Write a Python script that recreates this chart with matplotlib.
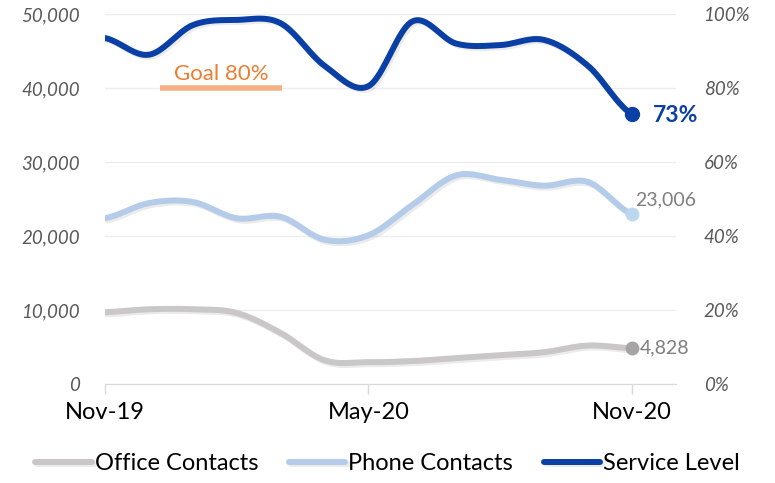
import numpy as np
import matplotlib
matplotlib.use("Agg")
import matplotlib.pyplot as plt
import matplotlib.patheffects as pe
from matplotlib.ticker import FuncFormatter

plt.rcParams['font.family'] = ['Lato', 'DejaVu Sans']

months = ['Nov-19', 'Dec-19', 'Jan-20', 'Feb-20', 'Mar-20', 'Apr-20', 'May-20',
          'Jun-20', 'Jul-20', 'Aug-20', 'Sep-20', 'Oct-20', 'Nov-20']
office = [9700, 10100, 10100, 9600, 6900, 3200, 2950, 3100, 3500, 3900, 4300, 5200, 4828]
phone = [22400, 24450, 24600, 22400, 22600, 19500, 20100, 24200, 28200, 27600, 26800, 27300, 23006]
service = [0.935, 0.89, 0.97, 0.984, 0.975, 0.86, 0.805, 0.98, 0.92, 0.916, 0.93, 0.86, 0.73]
goal = 0.80
tick_months = ['Nov-19', 'May-20', 'Nov-20']

c_office = '#C9C7C7'
c_phone = '#B4CCEA'
c_service = '#0A3FA6'


def smooth(y, n=20):
    # catmull-rom style curve through the monthly points (like Excel smoothed lines)
    y = np.asarray(y, dtype=float)
    x = np.arange(len(y), dtype=float)
    yp = np.concatenate([[y[0]], y, [y[-1]]])
    xs, ys = [], []
    for i in range(len(y) - 1):
        p0, p1, p2, p3 = yp[i], yp[i + 1], yp[i + 2], yp[i + 3]
        t = np.linspace(0, 1, n, endpoint=False)
        seg = 0.5 * ((2 * p1) + (-p0 + p2) * t + (2 * p0 - 5 * p1 + 4 * p2 - p3) * t ** 2
                     + (-p0 + 3 * p1 - 3 * p2 + p3) * t ** 3)
        xs.append(x[i] + t)
        ys.append(seg)
    xs.append([x[-1]])
    ys.append([y[-1]])
    return np.concatenate(xs), np.concatenate(ys)


shadow = [pe.SimpleLineShadow(offset=(1.5, -1.5), shadow_color='#000000', alpha=0.08),
          pe.Normal()]

fig, ax = plt.subplots(figsize=(7.75, 4.83), dpi=100)
fig.subplots_adjust(left=0.1355, right=0.872, bottom=0.205, top=0.971)
ax2 = ax.twinx()

x = np.arange(len(months))
sx, sy = smooth(office)
l1, = ax.plot(sx, sy, color=c_office, lw=4.3, solid_capstyle='round', path_effects=shadow,
              label='Office Contacts')
sx, sy = smooth(phone)
l2, = ax.plot(sx, sy, color=c_phone, lw=4.3, solid_capstyle='round', path_effects=shadow,
              label='Phone Contacts')
sx, sy = smooth(service)
l3, = ax2.plot(sx, sy, color=c_service, lw=4.3, solid_capstyle='round', path_effects=shadow,
               label='Service Level')

ax.plot(x[-1], office[-1], 'o', color='#A6A4A4', ms=9, zorder=5)
ax.plot(x[-1], phone[-1], 'o', color='#BDD7EE', ms=9, zorder=5)
ax2.plot(x[-1], service[-1], 'o', color=c_service, ms=10, zorder=5)

ax.annotate(f'{office[-1]:,}', (x[-1], office[-1]), xytext=(6, 0), textcoords='offset points',
            ha='left', va='center', color='#7F7F7F', fontsize=14)
ax.annotate(f'{phone[-1]:,}', (x[-1], phone[-1]), xytext=(2, 10), textcoords='offset points',
            ha='left', va='center', color='#7F7F7F', fontsize=14)
ax2.annotate(f'{service[-1]:.0%}', (x[-1], service[-1]), xytext=(15, -1), textcoords='offset points',
             ha='left', va='center', color=c_service, fontsize=16.5, fontweight='bold')

# goal marker
ax2.hlines(goal, 1.25, 4.03, color='#F4B183', lw=4)
ax2.text(2.64, goal + 0.01, f'Goal {goal:.0%}', ha='center', va='bottom', color='#ED7D31',
         fontsize=16)

ax.set_xlim(0, 13)
ax.set_ylim(0, 50000)
ax2.set_ylim(0, 1.0)
ax.set_yticks(np.arange(0, 50001, 10000))
ax2.set_yticks(np.arange(0, 1.01, 0.2))
ax.yaxis.set_major_formatter(FuncFormatter(lambda v, p: f'{v:,.0f}'))
ax2.yaxis.set_major_formatter(FuncFormatter(lambda v, p: f'{v:.0%}'))

ax.set_xticks([months.index(m) for m in tick_months])
ax.set_xticklabels(tick_months, fontsize=17, color='black')
ax.tick_params(axis='x', length=7, color='#D9D9D9', width=1, pad=6)

for a in (ax, ax2):
    for s in a.spines.values():
        s.set_visible(False)
    a.tick_params(axis='y', length=0, labelsize=13.5, labelcolor='#595959')
for lab in ax.get_yticklabels() + ax2.get_yticklabels():
    lab.set_fontstyle('italic')
ax.tick_params(axis='y', pad=18)
ax2.tick_params(axis='y', pad=20)

ax.spines['bottom'].set_visible(True)
ax.spines['bottom'].set_color('#D9D9D9')
ax.grid(axis='y', color='#EDEDED', lw=1)
ax.set_axisbelow(True)

leg = fig.legend(handles=[l1, l2, l3], loc='lower center', bbox_to_anchor=(0.5, -0.025), ncol=3,
                 frameon=False, fontsize=17, handlelength=2.4, handletextpad=0.12,
                 columnspacing=1.3)

fig.savefig('out.png', dpi=100)
